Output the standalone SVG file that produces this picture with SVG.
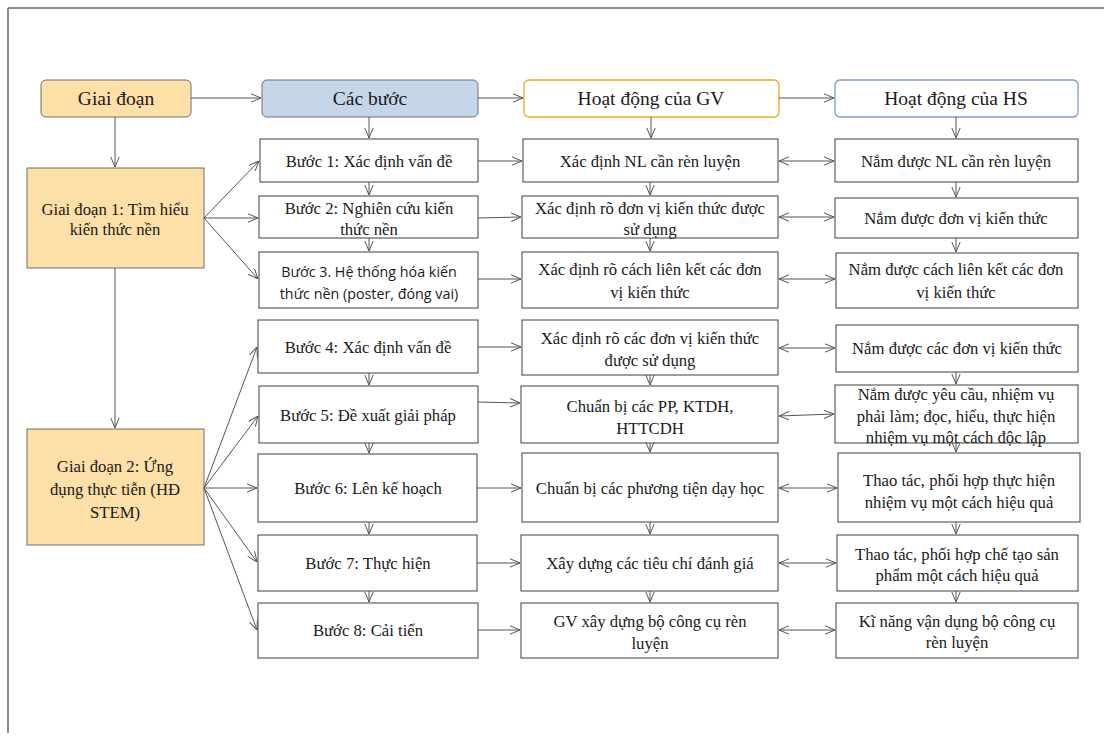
<svg xmlns="http://www.w3.org/2000/svg" width="1104" height="738" viewBox="0 0 1104 738">
<style>
.bx{fill:#fff;stroke:#3f3f3f;stroke-width:1}
.st{fill:#FDDFA8;stroke:#6f6f6f;stroke-width:1}
.t{font-family:"Liberation Serif","Times New Roman",serif;font-size:16.7px;fill:#1a1a1a;text-anchor:middle}
.h{font-family:"Liberation Serif","Times New Roman",serif;font-size:19.5px;fill:#1a1a1a;text-anchor:middle}
.s{font-family:"Open Sans","Noto Sans",sans-serif;font-size:14.3px;fill:#1a1a1a;text-anchor:middle}
.c line{stroke:#555;stroke-width:1;fill:none;marker-end:url(#ah)}
.c line.d{marker-start:url(#ah)}
</style>
<defs>
<marker id="ah" viewBox="0 0 10 10" refX="10" refY="5" markerWidth="10" markerHeight="10" markerUnits="userSpaceOnUse" orient="auto-start-reverse">
<path d="M0,0.8 L10,5 L0,9.2" fill="none" stroke="#555" stroke-width="1"/>
</marker>
</defs>
<rect width="1104" height="738" fill="#fff"/>
<g id="frame" stroke="#666" stroke-width="1.5" fill="none">
<line x1="8" y1="8" x2="1104" y2="8"/>
<line x1="8" y1="8" x2="8" y2="733"/>
</g>

<g id="h-giaidoan"><rect x="41" y="80" width="150" height="37" rx="5" fill="#FFE0A8" stroke="#6f6f6f"/><text class="h" x="116" y="105">Giai đoạn</text></g>
<g id="h-cacbuoc"><rect x="262" y="80" width="216" height="37" rx="5" fill="#C5D5EA" stroke="#6f6f6f"/><text class="h" x="370" y="105">Các bước</text></g>
<g id="h-gv"><rect x="524" y="80" width="255" height="37" rx="5" fill="#fff" stroke="#F5A623" stroke-width="1.3"/><text class="h" x="651" y="105">Hoạt động của GV</text></g>
<g id="h-hs"><rect x="835" y="80" width="243" height="37" rx="5" fill="#fff" stroke="#7B9BC8" stroke-width="1.3"/><text class="h" x="956" y="105">Hoạt động của HS</text></g>

<g id="gd1"><rect class="st" x="27" y="168" width="177" height="100"/><text class="t" x="115" y="215">Giai đoạn 1: Tìm hiểu</text><text class="t" x="115" y="235">kiến thức nền</text></g>
<g id="gd2"><rect class="st" x="27" y="429" width="177" height="116"/><text class="t" x="115" y="472">Giai đoạn 2: Ứng</text><text class="t" x="115" y="495">đụng thực tiễn (HĐ</text><text class="t" x="115" y="518">STEM)</text></g>

<g id="b1"><rect class="bx" x="260" y="139" width="218" height="43"/><text class="t" x="369" y="167">Bước 1: Xác định vấn đề</text></g>
<g id="b2"><rect class="bx" x="259" y="196" width="219" height="42"/><text class="t" x="369" y="214">Bước 2: Nghiên cứu kiến</text><text class="t" x="369" y="235">thức nền</text></g>
<g id="b3"><rect class="bx" x="259" y="252" width="219" height="56"/><text class="s" x="369" y="277">Bước 3. Hệ thống hóa kiến</text><text class="s" x="369" y="299">thức nền (poster, đóng vai)</text></g>
<g id="b4"><rect class="bx" x="258" y="320" width="220" height="53"/><text class="t" x="368" y="353">Bước 4: Xác định vấn đề</text></g>
<g id="b5"><rect class="bx" x="259" y="386" width="219" height="57"/><text class="t" x="368" y="421">Bước 5: Đề xuất giải pháp</text></g>
<g id="b6"><rect class="bx" x="258" y="454" width="219" height="68"/><text class="t" x="368" y="494">Bước 6: Lên kế hoạch</text></g>
<g id="b7"><rect class="bx" x="258" y="535" width="219" height="56"/><text class="t" x="368" y="569">Bước 7: Thực hiện</text></g>
<g id="b8"><rect class="bx" x="258" y="603" width="220" height="55"/><text class="t" x="368" y="636">Bước 8: Cải tiến</text></g>

<g id="g1"><rect class="bx" x="523" y="139" width="255" height="43"/><text class="t" x="650" y="167">Xác định NL cần rèn luyện</text></g>
<g id="g2"><rect class="bx" x="522" y="196" width="256" height="42"/><text class="t" x="650" y="214">Xác định rõ đơn vị kiến thức được</text><text class="t" x="650" y="235">sử dụng</text></g>
<g id="g3"><rect class="bx" x="522" y="252" width="256" height="56"/><text class="t" x="650" y="275">Xác định rõ cách liên kết các đơn</text><text class="t" x="650" y="298">vị kiến thức</text></g>
<g id="g4"><rect class="bx" x="522" y="320" width="256" height="55"/><text class="t" x="650" y="344">Xác định rõ các đơn vị kiến thức</text><text class="t" x="650" y="366">được sử dụng</text></g>
<g id="g5"><rect class="bx" x="521" y="386" width="257" height="57"/><text class="t" x="650" y="412">Chuẩn bị các PP, KTDH,</text><text class="t" x="650" y="434">HTTCDH</text></g>
<g id="g6"><rect class="bx" x="522" y="453" width="256" height="69"/><text class="t" x="650" y="494">Chuẩn bị các phương tiện dạy học</text></g>
<g id="g7"><rect class="bx" x="521" y="535" width="257" height="56"/><text class="t" x="650" y="569">Xây dựng các tiêu chí đánh giá</text></g>
<g id="g8"><rect class="bx" x="521" y="603" width="257" height="55"/><text class="t" x="650" y="627">GV xây dựng bộ công cụ rèn</text><text class="t" x="650" y="649">luyện</text></g>

<g id="s1"><rect class="bx" x="835" y="139" width="243" height="43"/><text class="t" x="956" y="167">Nắm được NL cần rèn luyện</text></g>
<g id="s2"><rect class="bx" x="835" y="198" width="243" height="40"/><text class="t" x="956" y="224">Nắm được đơn vị kiến thức</text></g>
<g id="s3"><rect class="bx" x="836" y="253" width="242" height="55"/><text class="t" x="956" y="275">Nắm được cách liên kết các đơn</text><text class="t" x="956" y="298">vị kiến thức</text></g>
<g id="s4"><rect class="bx" x="836" y="325" width="242" height="47"/><text class="t" x="957" y="354">Nắm được các đơn vị kiến thức</text></g>
<g id="s5"><rect class="bx" x="835" y="385" width="243" height="58"/><text class="t" x="956" y="400">Nắm được yêu cầu, nhiệm vụ</text><text class="t" x="956" y="422">phải làm; đọc, hiểu, thực hiện</text><text class="t" x="956" y="443">nhiệm vụ một cách độc lập</text></g>
<g id="s6"><rect class="bx" x="838" y="453" width="242" height="69"/><text class="t" x="959" y="486">Thao tác, phối hợp thực hiện</text><text class="t" x="959" y="508">nhiệm vụ một cách hiệu quả</text></g>
<g id="s7"><rect class="bx" x="837" y="535" width="241" height="56"/><text class="t" x="957" y="560">Thao tác, phối hợp chế tạo sản</text><text class="t" x="957" y="581">phẩm một cách hiệu quả</text></g>
<g id="s8"><rect class="bx" x="836" y="603" width="242" height="55"/><text class="t" x="957" y="627">Kĩ năng vận dụng bộ công cụ</text><text class="t" x="957" y="648">rèn luyện</text></g>

<g id="connectors" class="c">
<line x1="191" y1="98" x2="261" y2="98"/>
<line x1="478" y1="98" x2="523" y2="98"/>
<line x1="779" y1="98" x2="834" y2="98"/>
<line x1="369" y1="117" x2="369" y2="138"/>
<line x1="651" y1="117" x2="651" y2="138"/>
<line x1="956" y1="117" x2="956" y2="138"/>
<line x1="115" y1="117" x2="115" y2="167"/>
<line x1="115" y1="268" x2="115" y2="428"/>
<line x1="204" y1="218" x2="259" y2="161"/>
<line x1="204" y1="218" x2="258" y2="218"/>
<line x1="204" y1="218" x2="258" y2="279"/>
<line x1="204" y1="488" x2="257" y2="347"/>
<line x1="204" y1="488" x2="258" y2="416"/>
<line x1="204" y1="488" x2="257" y2="488"/>
<line x1="204" y1="488" x2="257" y2="562"/>
<line x1="204" y1="488" x2="257" y2="630"/>
<line x1="369" y1="182" x2="369" y2="195"/>
<line x1="369" y1="238" x2="369" y2="251"/>
<line x1="369" y1="373" x2="369" y2="385"/>
<line x1="369" y1="443" x2="369" y2="453"/>
<line x1="369" y1="522" x2="369" y2="534"/>
<line x1="369" y1="591" x2="369" y2="602"/>
<line x1="650" y1="182" x2="650" y2="195"/>
<line x1="650" y1="238" x2="650" y2="251"/>
<line x1="650" y1="375" x2="650" y2="385"/>
<line x1="650" y1="443" x2="650" y2="452"/>
<line x1="650" y1="522" x2="650" y2="534"/>
<line x1="650" y1="591" x2="650" y2="602"/>
<line x1="956" y1="182" x2="956" y2="197"/>
<line x1="956" y1="238" x2="956" y2="252"/>
<line x1="956" y1="372" x2="956" y2="384"/>
<line x1="956" y1="443" x2="956" y2="452"/>
<line x1="956" y1="522" x2="956" y2="534"/>
<line x1="956" y1="591" x2="956" y2="602"/>
<line x1="478" y1="161" x2="522" y2="161"/>
<line x1="478" y1="218" x2="521" y2="217"/>
<line x1="478" y1="279" x2="521" y2="279"/>
<line x1="478" y1="347" x2="521" y2="347"/>
<line x1="478" y1="402" x2="520" y2="403"/>
<line x1="477" y1="488" x2="521" y2="488"/>
<line x1="477" y1="563" x2="520" y2="563"/>
<line x1="478" y1="630" x2="520" y2="630"/>
<line class="d" x1="779" y1="161" x2="834" y2="161"/>
<line class="d" x1="779" y1="217" x2="834" y2="217"/>
<line class="d" x1="779" y1="279" x2="835" y2="279"/>
<line class="d" x1="779" y1="348" x2="835" y2="348"/>
<line class="d" x1="779" y1="416" x2="834" y2="414"/>
<line class="d" x1="779" y1="488" x2="837" y2="488"/>
<line class="d" x1="779" y1="563" x2="836" y2="563"/>
<line class="d" x1="779" y1="630" x2="835" y2="630"/>
</g>
</svg>
